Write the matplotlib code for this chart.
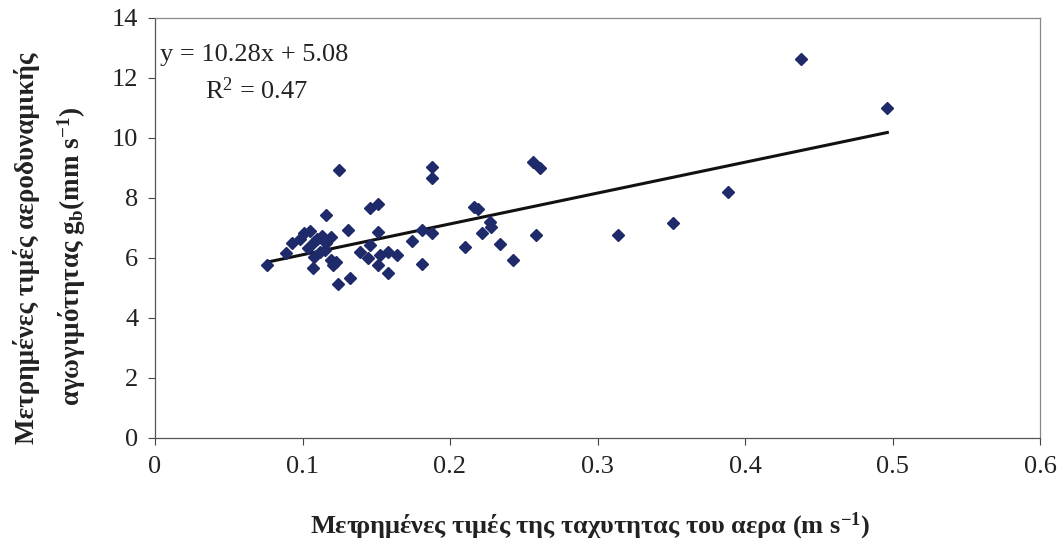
import matplotlib
matplotlib.use("Agg")
import matplotlib.pyplot as plt
import numpy as np

plt.rcParams['font.family'] = ['Liberation Serif', 'DejaVu Serif']
plt.rcParams['mathtext.fontset'] = 'custom'
plt.rcParams['mathtext.rm'] = 'Liberation Serif'
plt.rcParams['mathtext.it'] = 'Liberation Serif:italic'
plt.rcParams['mathtext.bf'] = 'Liberation Serif:bold'

# Measured air velocity (m s-1)
air_speed = [0.0762, 0.089, 0.093, 0.098, 0.101, 0.105, 0.104, 0.108, 0.110, 0.113,
             0.116, 0.119, 0.115, 0.108, 0.107, 0.112, 0.119, 0.121, 0.123, 0.116,
             0.125, 0.131, 0.124, 0.132, 0.139, 0.1445, 0.146, 0.146, 0.151, 0.151,
             0.1525, 0.151, 0.158, 0.158, 0.164, 0.174, 0.181, 0.181, 0.1876, 0.1876,
             0.1876, 0.210, 0.216, 0.219, 0.2215, 0.227, 0.228, 0.234, 0.243, 0.2565,
             0.261, 0.258, 0.314, 0.3515, 0.3887, 0.4377, 0.4965]
# Measured aerodynamic conductance gb (mm s-1)
conductance = [5.77, 6.18, 6.50, 6.65, 6.82, 6.90, 6.35, 6.55, 6.65, 6.72,
               6.50, 6.70, 6.27, 6.04, 5.67, 6.20, 5.95, 5.77, 5.88, 7.43,
               8.93, 6.93, 5.13, 5.32, 6.21, 5.99, 6.45, 7.66, 7.80, 6.88,
               6.10, 5.77, 6.21, 5.49, 6.10, 6.58, 5.80, 6.95, 6.82, 9.04,
               8.68, 6.36, 7.71, 7.62, 6.82, 7.21, 7.05, 6.47, 5.93, 9.21,
               8.99, 6.77, 6.77, 7.16, 8.21, 12.62, 11.01]

slope = 10.28
intercept = 5.08
r_squared = 0.47

x_ticks = [0, 0.1, 0.2, 0.3, 0.4, 0.5, 0.6]
x_ticklabels = ['0', '0.1', '0.2', '0.3', '0.4', '0.5', '0.6']
y_ticks = [0, 2, 4, 6, 8, 10, 12, 14]

fig = plt.figure(figsize=(10.62, 5.59), dpi=100)
ax = fig.add_axes([155 / 1062, 1 - 438 / 559, (1040 - 155) / 1062, (438 - 18) / 559])

ax.plot(air_speed, conductance, linestyle='none', marker='D', markersize=5.8,
        color='#1f2a6b', markeredgecolor='#1f2a6b', zorder=3)

xs = np.array([min(air_speed), max(air_speed)])
ax.plot(xs, slope * xs + intercept, color='#111111', linewidth=2.2, zorder=2)

ax.set_xlim(0, 0.6)
ax.set_ylim(0, 14)
ax.set_xticks(x_ticks)
ax.set_xticklabels(x_ticklabels)
ax.set_yticks(y_ticks)
ax.tick_params(axis='both', direction='out', length=5, width=0.8, colors='#444444',
               labelsize=19, labelcolor='#222222')
ax.tick_params(axis='x', pad=8)
ax.tick_params(axis='y', pad=7)

for side in ['left', 'bottom']:
    ax.spines[side].set_color('#555555')
    ax.spines[side].set_linewidth(0.9)
for side in ['top', 'right']:
    ax.spines[side].set_color('#888888')
    ax.spines[side].set_linewidth(0.9)

ax.text(0.006, 0.913, 'y = %.2fx + %.2f' % (slope, intercept), transform=ax.transAxes,
        fontsize=19, color='#222222', va='center', ha='left')
ax.text(0.056, 0.826, r'R$^2$ = %.2f' % r_squared, transform=ax.transAxes,
        fontsize=19, color='#222222', va='center', ha='left')

fig.text(590 / 1062, 1 - 526 / 559,
         r'Μετρημένες τιμές της ταχυτητας του αερα (m s$^{\mathbf{-1}}$)',
         fontsize=19, fontweight='bold', color='#222222', ha='center', va='center')
fig.text(27 / 1062, 1 - 248 / 559, 'Μετρημένες τιμές αεροδυναμικής',
         rotation=90, fontsize=19.5, fontweight='bold', color='#222222',
         ha='center', va='center')
fig.text(72 / 1062, 1 - 256 / 559,
         r'αγωγιμότητας g$_{\mathbf{b}}$(mm s$^{\mathbf{-1}}$)',
         rotation=90, fontsize=19.5, fontweight='bold', color='#222222',
         ha='center', va='center')

fig.savefig('out.png', dpi=100)
